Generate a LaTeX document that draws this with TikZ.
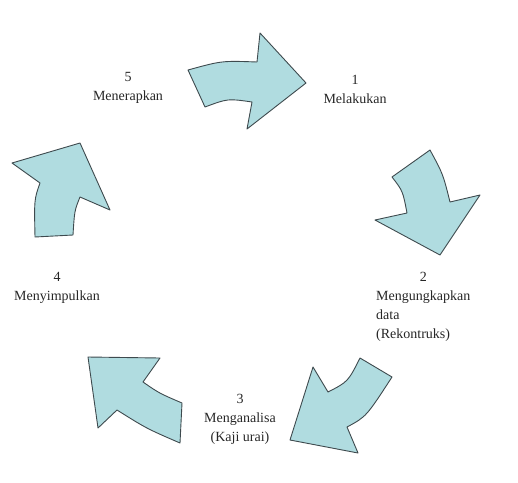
\documentclass[tikz,border=0pt]{standalone}
\usepackage{fontspec}
\setmainfont{Liberation Serif}
\usepackage{tikz}
\usetikzlibrary{positioning}
\definecolor{arrowfill}{HTML}{B0DCE0}
\definecolor{arrowline}{HTML}{3E4A4E}
\definecolor{labeltext}{HTML}{262626}
\tikzstyle{cyclearrow} = [draw=arrowline, fill=arrowfill, line width=0.9pt, line join=round]
\tikzstyle{steplabel} = [align=center, inner sep=0pt, text=labeltext, font=\fontsize{14}{19}\selectfont]

\begin{document}
\begin{tikzpicture}[x=1pt, y=-1pt]
    \useasboundingbox (0,0) rectangle (518,482);

    % five curved arrows round the cycle
    \draw[cyclearrow] (188,70) .. controls (221.8,60.7) .. (257,62) -- (260,33) -- (306,83) -- (247,129) -- (252,102) .. controls (227.8,98.5) .. (205,107) -- cycle;
    \draw[cyclearrow] (430,150) -- (392,177) .. controls (402.8,191) .. (407,213) -- (375,220) -- (440,255) -- (480,195) -- (450,202) .. controls (443,174) .. cycle;
    \draw[cyclearrow] (360,358) -- (392,377) .. controls (366.2,416.7) .. (347,427) -- (358,453) -- (290,440) -- (313,367) -- (328,392) .. controls (348,381.7) .. cycle;
    \draw[cyclearrow] (88,357) -- (160,358) -- (143,382) .. controls (159.2,393.2) .. (182,403) -- (180,443) .. controls (146.5,428.5) .. (117,410) -- (98,428) -- cycle;
    \draw[cyclearrow] (80,143) -- (110,210) -- (80,197) .. controls (74.5,210.7) .. (73,235) -- (35,237) .. controls (34.2,199.3) .. (40,183) -- (12,163) -- cycle;

    % step labels
    \node[steplabel] (stepone) at (355,89) {1\\Melakukan};
    \node[steplabel, anchor=west] (steptwo) at (376,306) {\begin{tabular}{@{}l@{}}\multicolumn{1}{@{}c@{}}{2}\\Mengungkapkan\\data\\(Rekontruks)\end{tabular}};
    \node[steplabel] (stepthree) at (240,419) {3\\Menganalisa\\(Kaji urai)};
    \node[steplabel] (stepfour) at (57,288) {4\\Menyimpulkan};
    \node[steplabel] (stepfive) at (128,88) {5\\Menerapkan};
\end{tikzpicture}
\end{document}
